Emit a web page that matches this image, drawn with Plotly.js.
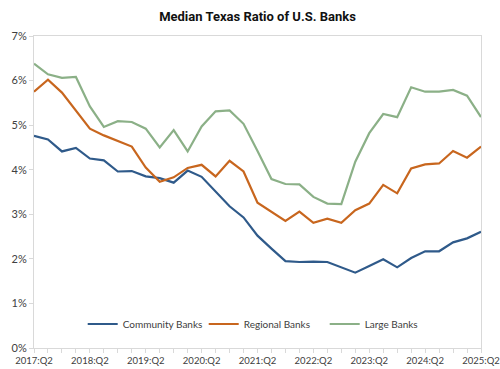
<!DOCTYPE html>
<html>
<head>
<meta charset="utf-8">
<script src="https://cdn.plot.ly/plotly-3.0.1.min.js"></script>
<style>html,body{margin:0;padding:0;background:#fff;}#chart{width:500px;height:369px;}</style>
</head>
<body>
<div id="chart"></div>
<script>
const quarters = [
  "2017:Q2","2017:Q3","2017:Q4","2018:Q1",
  "2018:Q2","2018:Q3","2018:Q4","2019:Q1",
  "2019:Q2","2019:Q3","2019:Q4","2020:Q1",
  "2020:Q2","2020:Q3","2020:Q4","2021:Q1",
  "2021:Q2","2021:Q3","2021:Q4","2022:Q1",
  "2022:Q2","2022:Q3","2022:Q4","2023:Q1",
  "2023:Q2","2023:Q3","2023:Q4","2024:Q1",
  "2024:Q2","2024:Q3","2024:Q4","2025:Q1",
  "2025:Q2"
];
const tickLabels = ["2017:Q2","2018:Q2","2019:Q2","2020:Q2","2021:Q2","2022:Q2","2023:Q2","2024:Q2","2025:Q2"];
const communityBanks = [4.76,4.68,4.41,4.49,4.25,4.21,3.96,3.97,3.85,3.81,3.71,3.98,3.84,3.50,3.18,2.93,2.52,2.23,1.95,1.93,1.94,1.93,1.81,1.69,1.84,1.99,1.81,2.02,2.17,2.17,2.37,2.46,2.61];
const regionalBanks = [5.75,6.02,5.73,5.33,4.92,4.77,4.64,4.52,4.05,3.73,3.83,4.04,4.11,3.85,4.20,3.96,3.26,3.06,2.85,3.06,2.81,2.90,2.81,3.09,3.24,3.66,3.47,4.03,4.12,4.14,4.42,4.27,4.52];
const largeBanks = [6.38,6.14,6.06,6.08,5.42,4.96,5.09,5.07,4.92,4.50,4.89,4.41,4.97,5.31,5.33,5.03,4.42,3.79,3.68,3.67,3.39,3.24,3.23,4.18,4.82,5.25,5.18,5.85,5.75,5.75,5.79,5.66,5.18];

const seriesNames = ["Community Banks","Regional Banks","Large Banks"];
const seriesColors = ["#2F5A8A","#C8661E","#8BB087"];
const seriesValues = [communityBanks, regionalBanks, largeBanks];

const traces = seriesValues.map((vals, k) => ({
  type: "scatter", mode: "lines",
  x: quarters, y: vals, name: seriesNames[k],
  line: {color: seriesColors[k], width: 2.2}
}));

const tickText = quarters.map(q => tickLabels.includes(q) ? q : "");

const layout = {
  width: 500, height: 369,
  margin: {l: 34, r: 19, t: 36, b: 21},
  paper_bgcolor: "#fff", plot_bgcolor: "#fff",
  font: {family: "Lato, 'Open Sans', sans-serif", color: "#404040"},
  title: {text: "Median Texas Ratio of U.S. Banks", x: 0.515, xanchor: "center", y: 0.955, yanchor: "middle",
          font: {family: "Roboto, sans-serif", size: 13, color: "#111", weight: "bold"}},
  showlegend: true,
  legend: {orientation: "h", x: 0.515, xanchor: "center", y: 0.077, yanchor: "middle",
           bgcolor: "rgba(0,0,0,0)", font: {size: 10, color: "#404040"}, traceorder: "normal",
           itemwidth: 30, entrywidth: 76, entrywidthmode: "pixels"},
  xaxis: {
    type: "category", range: [0, quarters.length - 1],
    tickmode: "array", tickvals: quarters, ticktext: tickText,
    ticks: "outside", ticklen: 4, tickcolor: "#d9d9d9", tickwidth: 1,
    showline: true, linecolor: "#d9d9d9", linewidth: 1, mirror: true,
    showgrid: false, zeroline: false, tickangle: 0,
    tickfont: {size: 9.5, color: "#404040"}
  },
  yaxis: {
    range: [0, 7], dtick: 1, tick0: 0, ticksuffix: "%",
    ticks: "outside", ticklen: 4, tickcolor: "#d9d9d9",
    showline: true, linecolor: "#d9d9d9", linewidth: 1, mirror: true,
    showgrid: false, zeroline: false,
    tickfont: {size: 11, color: "#404040"}
  }
};

Plotly.newPlot("chart", traces, layout, {displayModeBar: false, staticPlot: true});
</script>
</body>
</html>
